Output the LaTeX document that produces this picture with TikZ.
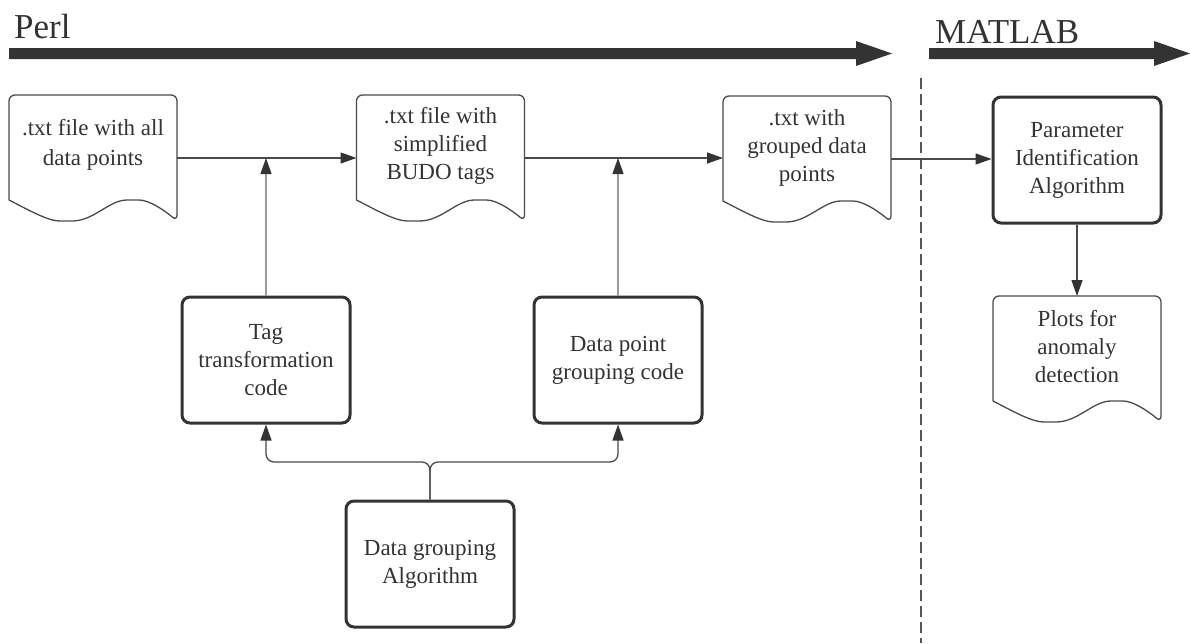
\documentclass[tikz,border=0pt]{standalone}
\usepackage{fontspec}
\setmainfont{Liberation Serif}
\usetikzlibrary{arrows.meta,calc}
\definecolor{ink}{HTML}{333333}
\definecolor{edge}{HTML}{4A4A4A}
\definecolor{lightedge}{HTML}{9A9A9A}
\definecolor{dashcol}{HTML}{555555}
\newcommand{\bodyfont}{\fontsize{23}{28}\selectfont}
\newcommand{\titlefont}{\fontsize{35}{40}\selectfont}
\newcommand{\docoutline}[1]{%
  \draw[docline] ($(#1.south west)+(0,-21)$) -- (#1.north west) -- (#1.north east) -- (#1.south east)
    .. controls +(-13,-11) and +(16,0) .. ($(#1.south west)+(124,-21)$)
    .. controls +(-24,0) and +(28,0) .. ($(#1.south west)+(57,0)$)
    .. controls +(-17,0) and +(25,13) .. ($(#1.south west)+(0,-21)$);}
\tikzset{
  docbox/.style={minimum width=168pt, minimum height=126pt, inner sep=0pt, outer sep=0pt},
  doctext/.style={align=center, font=\bodyfont, text=ink, inner sep=0pt},
  docline/.style={draw=edge, line width=1.3pt, rounded corners=6pt, line join=round},
  proc/.style={draw=ink, line width=3pt, rounded corners=8pt, minimum width=168pt,
    minimum height=126pt, inner sep=0pt, align=center, font=\bodyfont, text=ink},
  conn/.style={draw=edge, line width=1.3pt, -{Triangle[length=16pt,width=11pt,color=ink]}},
  connlight/.style={draw=lightedge, line width=1.3pt, -{Triangle[length=16pt,width=11pt,color=ink]}},
  titletext/.style={font=\titlefont, text=ink, inner sep=0pt},
  dashline/.style={draw=dashcol, line width=2.7pt, dash pattern=on 11pt off 5pt},
}
\begin{document}
\begin{tikzpicture}[x=1pt,y=-1pt]
\useasboundingbox (0,0) rectangle (1190,643);
% timeline arrows
\node[titletext, anchor=base west] (perl) at (14,38) {Perl};
\node[titletext, anchor=base west] (matlab) at (935,43) {MATLAB};
\fill[ink] (9,48) -- (856,48) -- (856,41) -- (892,53.5) -- (856,66) -- (856,59) -- (9,59) -- cycle;
\fill[ink] (929,48) -- (1154,48) -- (1154,41) -- (1190,53.5) -- (1154,66) -- (1154,59) -- (929,59) -- cycle;
% divider
\coordinate (dtop) at (921,78);
\coordinate (dbot) at (921,643);
\draw[dashline] (dtop) -- (dbot);
% documents
\node[docbox] (d1) at (93,158) {};
\node[doctext] (d1t) at ($(d1.center)+(0,-13)$) {.txt file with all\\[2pt]data points};
\docoutline{d1}
\node[docbox] (d2) at (440.5,158) {};
\node[doctext] (d2t) at ($(d2.center)+(0,-12)$) {.txt file with\\simplified\\BUDO tags};
\docoutline{d2}
\node[docbox] (d3) at (807,159) {};
\node[doctext] (d3t) at ($(d3.center)+(0,-11)$) {.txt with\\grouped data\\points};
\docoutline{d3}
\node[docbox] (plots) at (1077,359) {};
\node[doctext] (plotst) at ($(plots.center)+(0,-12)$) {Plots for\\anomaly\\detection};
\docoutline{plots}
% process boxes
\node[proc] (param) at (1077,160) {Parameter\\Identification\\Algorithm};
\node[proc] (tag) at (266,360) {Tag\\transformation\\code};
\node[proc] (dp) at (618,360) {Data point\\grouping code};
\node[proc] (group) at (430,564) {Data grouping\\Algorithm};
% connectors
\draw[conn] (d1.east) -- (d2.west);
\draw[conn] (d2.east) -- (d2.east -| d3.west);
\draw[conn] (d3.east) -- (d3.east -| param.west);
\draw[connlight] (tag.north) -- (tag.north |- d1.east);
\draw[connlight] (dp.north) -- (dp.north |- d2.east);
\draw[conn] (param.south) -- (plots.north);
\coordinate (j) at (430,462);
\draw[conn, rounded corners=8pt] (group.north) -- (j) -| (tag.south);
\draw[conn, rounded corners=8pt] (group.north) -- (j) -| (dp.south);
\end{tikzpicture}
\end{document}
